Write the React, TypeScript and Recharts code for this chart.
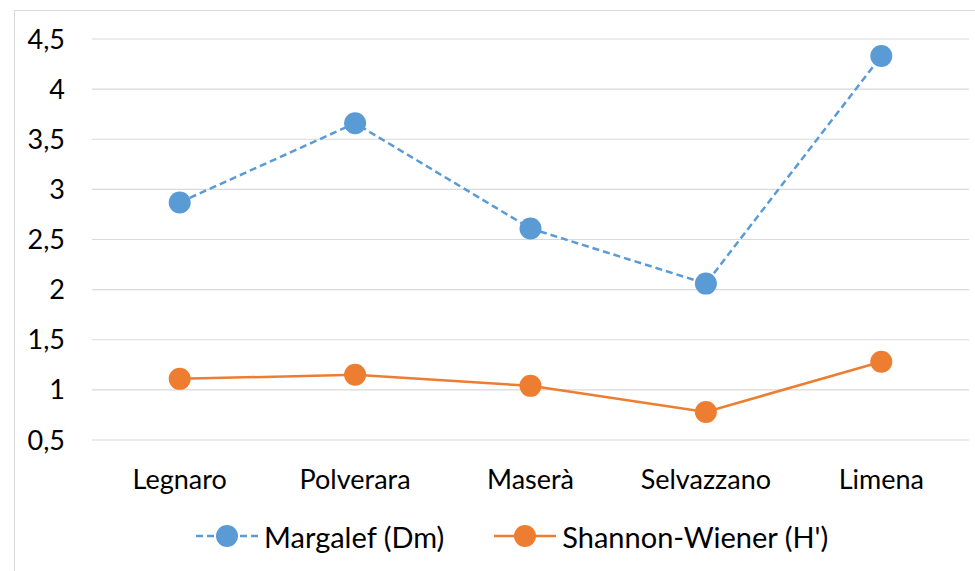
import React from 'react';
import { LineChart, Line, XAxis, YAxis, CartesianGrid, Legend } from 'recharts';

const categories = ['Legnaro', 'Polverara', 'Maserà', 'Selvazzano', 'Limena'];
const margalef = [2.87, 3.66, 2.61, 2.06, 4.33];
const shannon = [1.11, 1.15, 1.04, 0.78, 1.28];
const yTicks = [0.5, 1, 1.5, 2, 2.5, 3, 3.5, 4, 4.5];

const BLUE = '#5B9BD5';
const ORANGE = '#ED7D31';
const FONT = 'Lato, "Noto Sans", sans-serif';

const data = categories.map((c, i) => ({ name: c, margalef: margalef[i], shannon: shannon[i] }));

const legendItems = [
  { label: 'Margalef (Dm)', color: BLUE, dash: '7 4' },
  { label: "Shannon-Wiener (H')", color: ORANGE, dash: undefined as string | undefined },
];

const LegendContent = () => (
  <div style={{ display: 'flex', alignItems: 'center', height: 40, paddingLeft: 196, fontFamily: FONT, fontSize: 29, color: '#000' }}>
    {legendItems.map((it, i) => (
      <div key={it.label} style={{ display: 'flex', alignItems: 'center', marginRight: i === 0 ? 50 : 0 }}>
        <svg width={62} height={24} style={{ marginRight: 6 }}>
          <line x1={0} y1={12} x2={62} y2={12} stroke={it.color} strokeWidth={2.5} strokeDasharray={it.dash} />
          <circle cx={31} cy={12} r={11} fill={it.color} />
        </svg>
        <span>{it.label}</span>
      </div>
    ))}
  </div>
);

export default function App() {
  return (
    <div style={{ position: 'absolute', left: 0, top: 0, width: 975, height: 571, overflow: 'hidden', background: '#fff' }}>
      <div style={{ position: 'absolute', left: 14, top: 10, width: 1000, height: 700, border: '1px solid #d9d9d9' }} />
      <div style={{ position: 'absolute', left: 0, top: 0 }}>
        <LineChart width={975} height={571} data={data} margin={{ top: 39, right: 6, left: 0, bottom: 61 }}>
          <CartesianGrid vertical={false} stroke="#d9d9d9" strokeWidth={1.2} />
          <XAxis
            dataKey="name"
            axisLine={false}
            tickLine={false}
            tickSize={0}
            tickMargin={30}
            padding={{ left: 87.7, right: 87.7 }}
            interval={0}
            tick={{ fill: '#000', fontSize: 27, fontFamily: FONT }}
          />
          <YAxis
            width={92}
            domain={[0.5, 4.5]}
            ticks={yTicks}
            interval={0}
            axisLine={false}
            tickLine={false}
            tickSize={0}
            tickMargin={27}
            tickFormatter={(v: number) => String(v).replace('.', ',')}
            tick={{ fill: '#000', fontSize: 27, fontFamily: FONT }}
          />
          <Legend
            verticalAlign="bottom"
            content={<LegendContent />}
            wrapperStyle={{ top: 516, bottom: 'auto', left: 0, width: 975, height: 40 }}
          />
          <Line
            dataKey="margalef"
            stroke={BLUE}
            strokeWidth={2.5}
            strokeDasharray="7 4"
            dot={{ r: 11, fill: BLUE, stroke: BLUE, strokeWidth: 0 }}
            activeDot={false}
            isAnimationActive={false}
          />
          <Line
            dataKey="shannon"
            stroke={ORANGE}
            strokeWidth={2.5}
            dot={{ r: 11, fill: ORANGE, stroke: ORANGE, strokeWidth: 0 }}
            activeDot={false}
            isAnimationActive={false}
          />
        </LineChart>
      </div>
    </div>
  );
}
